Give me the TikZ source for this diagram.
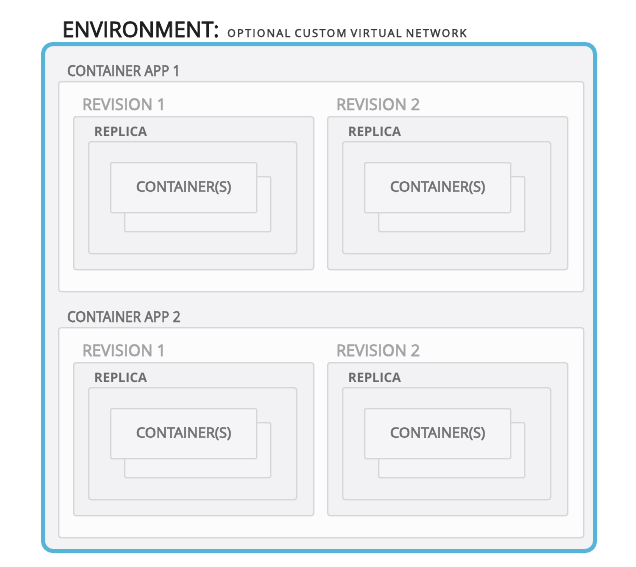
\documentclass[tikz,border=0pt]{standalone}
\usepackage{fontspec}
\setmainfont{Open Sans}
\newfontfamily\semib[FakeBold=3]{Open Sans}
\newfontfamily\semibn[FakeBold=3,FakeStretch=0.9]{Open Sans}
\newfontfamily\semibw[FakeBold=2,LetterSpace=12]{Open Sans}
\definecolor{envblue}{HTML}{55B4D8}
\definecolor{envfill}{HTML}{F3F2F5}
\definecolor{appfill}{HTML}{FCFCFD}
\definecolor{boxline}{HTML}{D6D6D8}
\definecolor{revfill}{HTML}{F2F1F4}
\definecolor{confill}{HTML}{F5F4F7}
\definecolor{txtdark}{HTML}{1E1E1E}
\definecolor{txtsub}{HTML}{3A3A3A}
\definecolor{txtapp}{HTML}{6E6E6E}
\definecolor{txtrev}{HTML}{A3A3A5}
\definecolor{txtrep}{HTML}{6A6A6C}
\definecolor{txtcon}{HTML}{707072}
\begin{document}
\begin{tikzpicture}[x=1pt,y=-1pt,
  envbox/.style={draw=envblue,line width=4pt,fill=envfill,rounded corners=10pt},
  gbox/.style={draw=boxline,line width=1.3pt,rounded corners=2.5pt,inner sep=0pt,anchor=north west},
  appbox/.style={gbox,fill=appfill},
  revbox/.style={gbox,fill=revfill},
  conbox/.style={gbox,fill=confill,rounded corners=1pt},
  lbl/.style={anchor=base west,inner sep=0pt},
  applbl/.style={lbl,text=txtapp,font=\semibn\fontsize{15}{18}\selectfont},
  revlbl/.style={lbl,text=txtrev,font=\semib\fontsize{16}{18}\selectfont},
  replbl/.style={lbl,text=txtrep,font=\bfseries\fontsize{13}{15}\selectfont},
  conlbl/.style={inner sep=0pt,text=txtcon,font=\semib\fontsize{14.4}{15}\selectfont}]
\useasboundingbox (0,0) rectangle (636,566);
\fill[white] (0,0) rectangle (636,566);
% environment
\node[lbl,text=txtdark,font=\semib\fontsize{21.3}{24}\selectfont] (envt) at (62,37) {ENVIRONMENT:};
\node[lbl,text=txtsub,font=\semibw\fontsize{11}{12}\selectfont] (envs) at (227,37) {OPTIONAL CUSTOM VIRTUAL NETWORK};
\draw[envbox] (43,44) rectangle (595,551);
% apps
\foreach \a/\dy in {1/0,2/246}{
  \node[applbl] (app\a t) at (67,76+\dy) {CONTAINER APP \a};
  \node[appbox,minimum width=525pt,minimum height=210pt] (app\a) at (58,81+\dy) {};
  \foreach \r/\dx in {1/0,2/254}{
    \node[revlbl] (rev\a\r t) at (82+\dx,110+\dy) {REVISION \r};
    \node[revbox,minimum width=240pt,minimum height=153pt] (rev\a\r) at (73+\dx,116+\dy) {};
    \node[replbl] (rep\a\r t) at (94+\dx,136+\dy) {REPLICA};
    \node[revbox,minimum width=208pt,minimum height=112pt] (rep\a\r) at (88+\dx,141+\dy) {};
    \node[conbox,minimum width=146pt,minimum height=55pt] (cb\a\r) at (124+\dx,176+\dy) {};
    \node[conbox,minimum width=146pt,minimum height=50pt] (cf\a\r) at (110+\dx,162+\dy) {};
    \node[conlbl] (cl\a\r) at (cf\a\r.center) {CONTAINER(S)};
  }
}
\end{tikzpicture}
\end{document}
